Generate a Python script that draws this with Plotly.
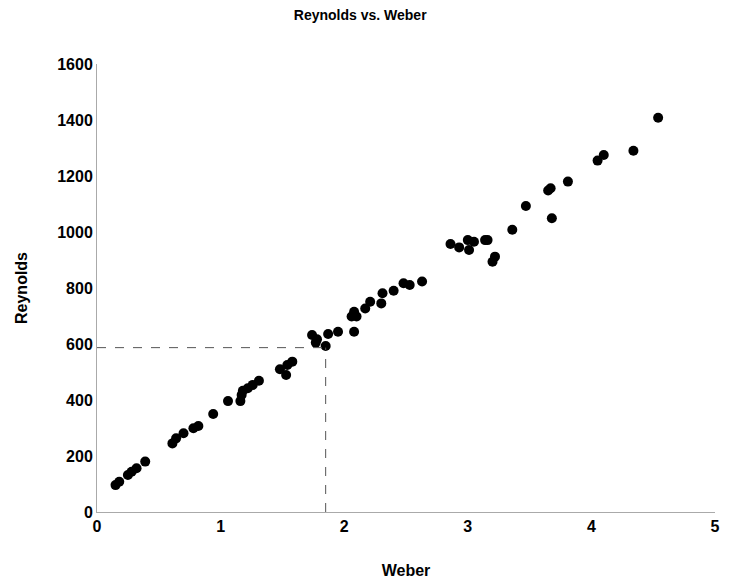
import plotly.graph_objects as go

weber = [0.15, 0.18, 0.25, 0.28, 0.32, 0.39, 0.61, 0.64, 0.70, 0.78, 0.82,
         0.94, 1.06, 1.16, 1.17, 1.18, 1.22, 1.26, 1.31, 1.48, 1.53, 1.54,
         1.58, 1.74, 1.78, 1.77, 1.85, 1.87, 1.95, 2.08, 2.06, 2.08, 2.10,
         2.17, 2.21, 2.30, 2.31, 2.40, 2.48, 2.53, 2.63, 2.86, 2.93, 3.00,
         3.01, 3.05, 3.14, 3.16, 3.20, 3.22, 3.36, 3.47, 3.65, 3.67, 3.68,
         3.81, 4.05, 4.10, 4.34, 4.54]
reynolds = [96, 108, 132, 144, 156, 180, 245, 263, 281, 299, 307,
            350, 396, 396, 418, 433, 442, 454, 469, 510, 489, 525,
            537, 632, 617, 605, 593, 636, 644, 644, 698, 715, 698,
            727, 751, 745, 781, 790, 817, 811, 823, 957, 945, 971,
            936, 965, 971, 971, 894, 912, 1008, 1093, 1148, 1156, 1049,
            1180, 1255, 1275, 1290, 1408]

# reference point marked with dashed guide lines
ref_weber = 1.85
ref_reynolds = 587

font = "Liberation Sans, Arial, sans-serif"

fig = go.Figure()
fig.add_trace(go.Scatter(x=weber, y=reynolds, mode="markers",
                         marker=dict(color="black", size=10),
                         showlegend=False, cliponaxis=False))

fig.add_shape(type="line", x0=0, x1=ref_weber, y0=ref_reynolds, y1=ref_reynolds,
              line=dict(color="#555555", width=1, dash="dash"))
fig.add_shape(type="line", x0=ref_weber, x1=ref_weber, y0=0, y1=ref_reynolds,
              line=dict(color="#555555", width=1, dash="dash"))

# page body has an 8px margin, so the figure is sized to fit inside it
fig.update_layout(
    width=713, height=571,
    paper_bgcolor="white", plot_bgcolor="white",
    margin=dict(l=89, r=6, t=56, b=67),
    font=dict(family=font, color="black"),
    title=dict(text="<b>Reynolds vs. Weber</b>", x=0.494, xref="container",
               xanchor="center", y=0.997, yref="container", yanchor="top",
               font=dict(size=14)),
    xaxis=dict(range=[0, 5], dtick=1, showgrid=False, zeroline=False,
               showline=True, linecolor="#aaaaaa", linewidth=1,
               ticks="", tickfont=dict(size=16, family=font),
               tickprefix="<b>", ticksuffix="</b>", automargin=False,
               title=dict(text="<b>Weber</b>", font=dict(size=16), standoff=31)),
    yaxis=dict(range=[0, 1600], dtick=200, showgrid=False, zeroline=False,
               showline=True, linecolor="#aaaaaa", linewidth=1,
               ticks="", tickfont=dict(size=16, family=font),
               tickprefix="<b>", ticksuffix="</b>", automargin=False,
               title=dict(text="<b>Reynolds</b>", font=dict(size=16), standoff=25)),
)

fig.write_html("out.html")
